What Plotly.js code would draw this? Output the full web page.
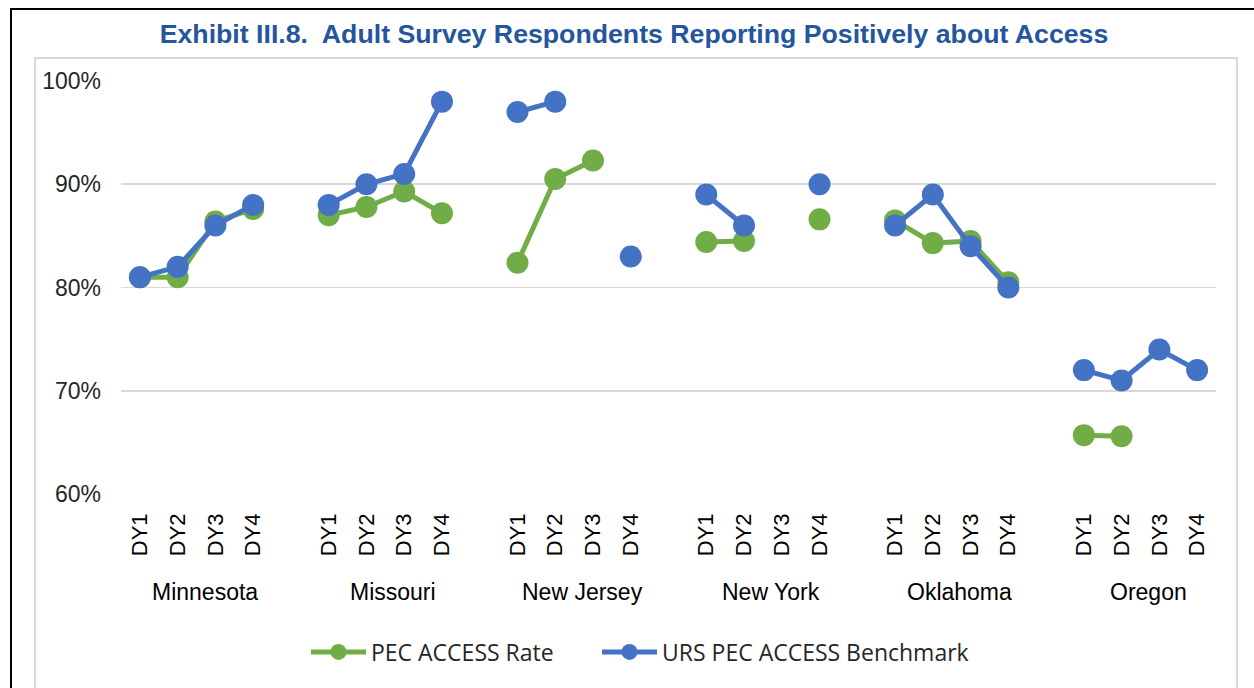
<!DOCTYPE html>
<html>
<head>
<meta charset="utf-8">
<script src="https://cdn.plot.ly/plotly-3.0.1.min.js"></script>
<style>
  html, body { margin: 0; padding: 0; background: #fff; overflow: hidden; }
  #chart { position: absolute; left: 0; top: 0; width: 1254px; height: 688px; }
  .frame { position: absolute; pointer-events: none; box-sizing: border-box; }
  #outer { left: 10px; top: 8px; width: 1400px; height: 900px; border: 2.5px solid #000; }
  #inner { left: 34px; top: 57px; width: 1204px; height: 900px; border: 2px solid #d9d9d9; }
</style>
</head>
<body>
<div id="chart"></div>
<div class="frame" id="outer"></div>
<div class="frame" id="inner"></div>
<script>
// ---- data ----
const states = ['Minnesota', 'Missouri', 'New Jersey', 'New York', 'Oklahoma', 'Oregon'];
const years = ['DY1', 'DY2', 'DY3', 'DY4'];
// PEC ACCESS Rate (%), DY1..DY4 per state in order above
const pecRate = [
  81.0, 81.0, 86.4, 87.6,
  87.0, 87.8, 89.3, 87.2,
  82.4, 90.5, 92.3, null,
  84.4, 84.5, null, 86.6,
  86.5, 84.3, 84.5, 80.5,
  65.7, 65.6, null, null
];
// URS PEC ACCESS Benchmark (%)
const benchmark = [
  81, 82, 86, 88,
  88, 90, 91, 98,
  97, 98, null, 83,
  89, 86, null, 90,
  86, 89, 84, 80,
  72, 71, 74, 72
];
const seriesNames = ['PEC ACCESS Rate', 'URS PEC ACCESS Benchmark'];
const seriesColors = ['#70AD47', '#4472C4'];

// ---- build positions: 4 slots per state plus one blank slot between states ----
const slot = years.length + 1;
function build(values) {
  const xs = [], ys = [];
  states.forEach((s, g) => {
    years.forEach((yr, j) => {
      xs.push(g * slot + j);
      ys.push(values[g * years.length + j]);
    });
    if (g < states.length - 1) { xs.push(g * slot + years.length); ys.push(null); }
  });
  return {xs, ys};
}
const tickvals = [], ticktext = [];
states.forEach((s, g) => years.forEach((yr, j) => { tickvals.push(g * slot + j); ticktext.push(yr); }));

const legendIds = ['legend', 'legend2'];
const traces = [pecRate, benchmark].map((vals, k) => {
  const b = build(vals);
  return {
    type: 'scatter', mode: 'lines+markers',
    x: b.xs, y: b.ys, name: seriesNames[k],
    legend: legendIds[k],
    connectgaps: false,
    line: {color: seriesColors[k], width: 5},
    marker: {color: seriesColors[k], size: 22},
    cliponaxis: false
  };
});

const annotations = states.map((s, g) => ({
  x: g * slot + (years.length - 1) / 2, xref: 'x',
  y: -0.237, yref: 'paper', yanchor: 'middle', xanchor: 'center',
  xshift: 8,
  text: s, showarrow: false,
  font: {family: 'Liberation Sans, Arial, sans-serif', size: 23, color: '#000'}
}));

const legendStyle = (xpx) => ({
  orientation: 'h', x: (xpx - 121) / 1095, xanchor: 'left', y: -0.3826, yanchor: 'middle',
  font: {family: 'Open Sans, sans-serif', size: 23, color: '#262626'},
  itemwidth: 55, bgcolor: 'rgba(0,0,0,0)'
});

const layout = {
  width: 1254, height: 688,
  paper_bgcolor: 'rgba(0,0,0,0)', plot_bgcolor: 'rgba(0,0,0,0)',
  margin: {l: 121, r: 1254 - 1216, t: 81, b: 688 - 494, pad: 0},
  title: {
    text: 'Exhibit III.8.\u00a0 Adult Survey Respondents Reporting Positively about Access',
    font: {family: 'Liberation Sans, Arial, sans-serif', size: 26.7, color: '#24569E', weight: 'bold'},
    xref: 'container', x: 634 / 1254, xanchor: 'center',
    yref: 'container', y: 1 - 34 / 688, yanchor: 'middle'
  },
  showlegend: true,
  legend: legendStyle(306),
  legend2: legendStyle(597),
  xaxis: {
    range: [-0.5, states.length * slot - 1 - 0.5],
    tickmode: 'array', tickvals: tickvals, ticktext: ticktext,
    tickangle: -90, ticks: '', showgrid: false, zeroline: false, showline: false,
    tickfont: {family: 'Liberation Sans, Arial, sans-serif', size: 22, color: '#000'},
    ticklabelstandoff: 14, fixedrange: true
  },
  yaxis: {
    range: [60, 100], dtick: 10, tick0: 60, ticksuffix: '%',
    showgrid: true, gridcolor: '#d9d9d9', gridwidth: 1.6,
    zeroline: false, showline: false, ticks: '',
    tickfont: {family: 'Liberation Sans, Arial, sans-serif', size: 23, color: '#262626'},
    ticklabelstandoff: 19, fixedrange: true
  },
  annotations: annotations
};

Plotly.newPlot('chart', traces, layout, {displayModeBar: false, staticPlot: true});
</script>
</body>
</html>
